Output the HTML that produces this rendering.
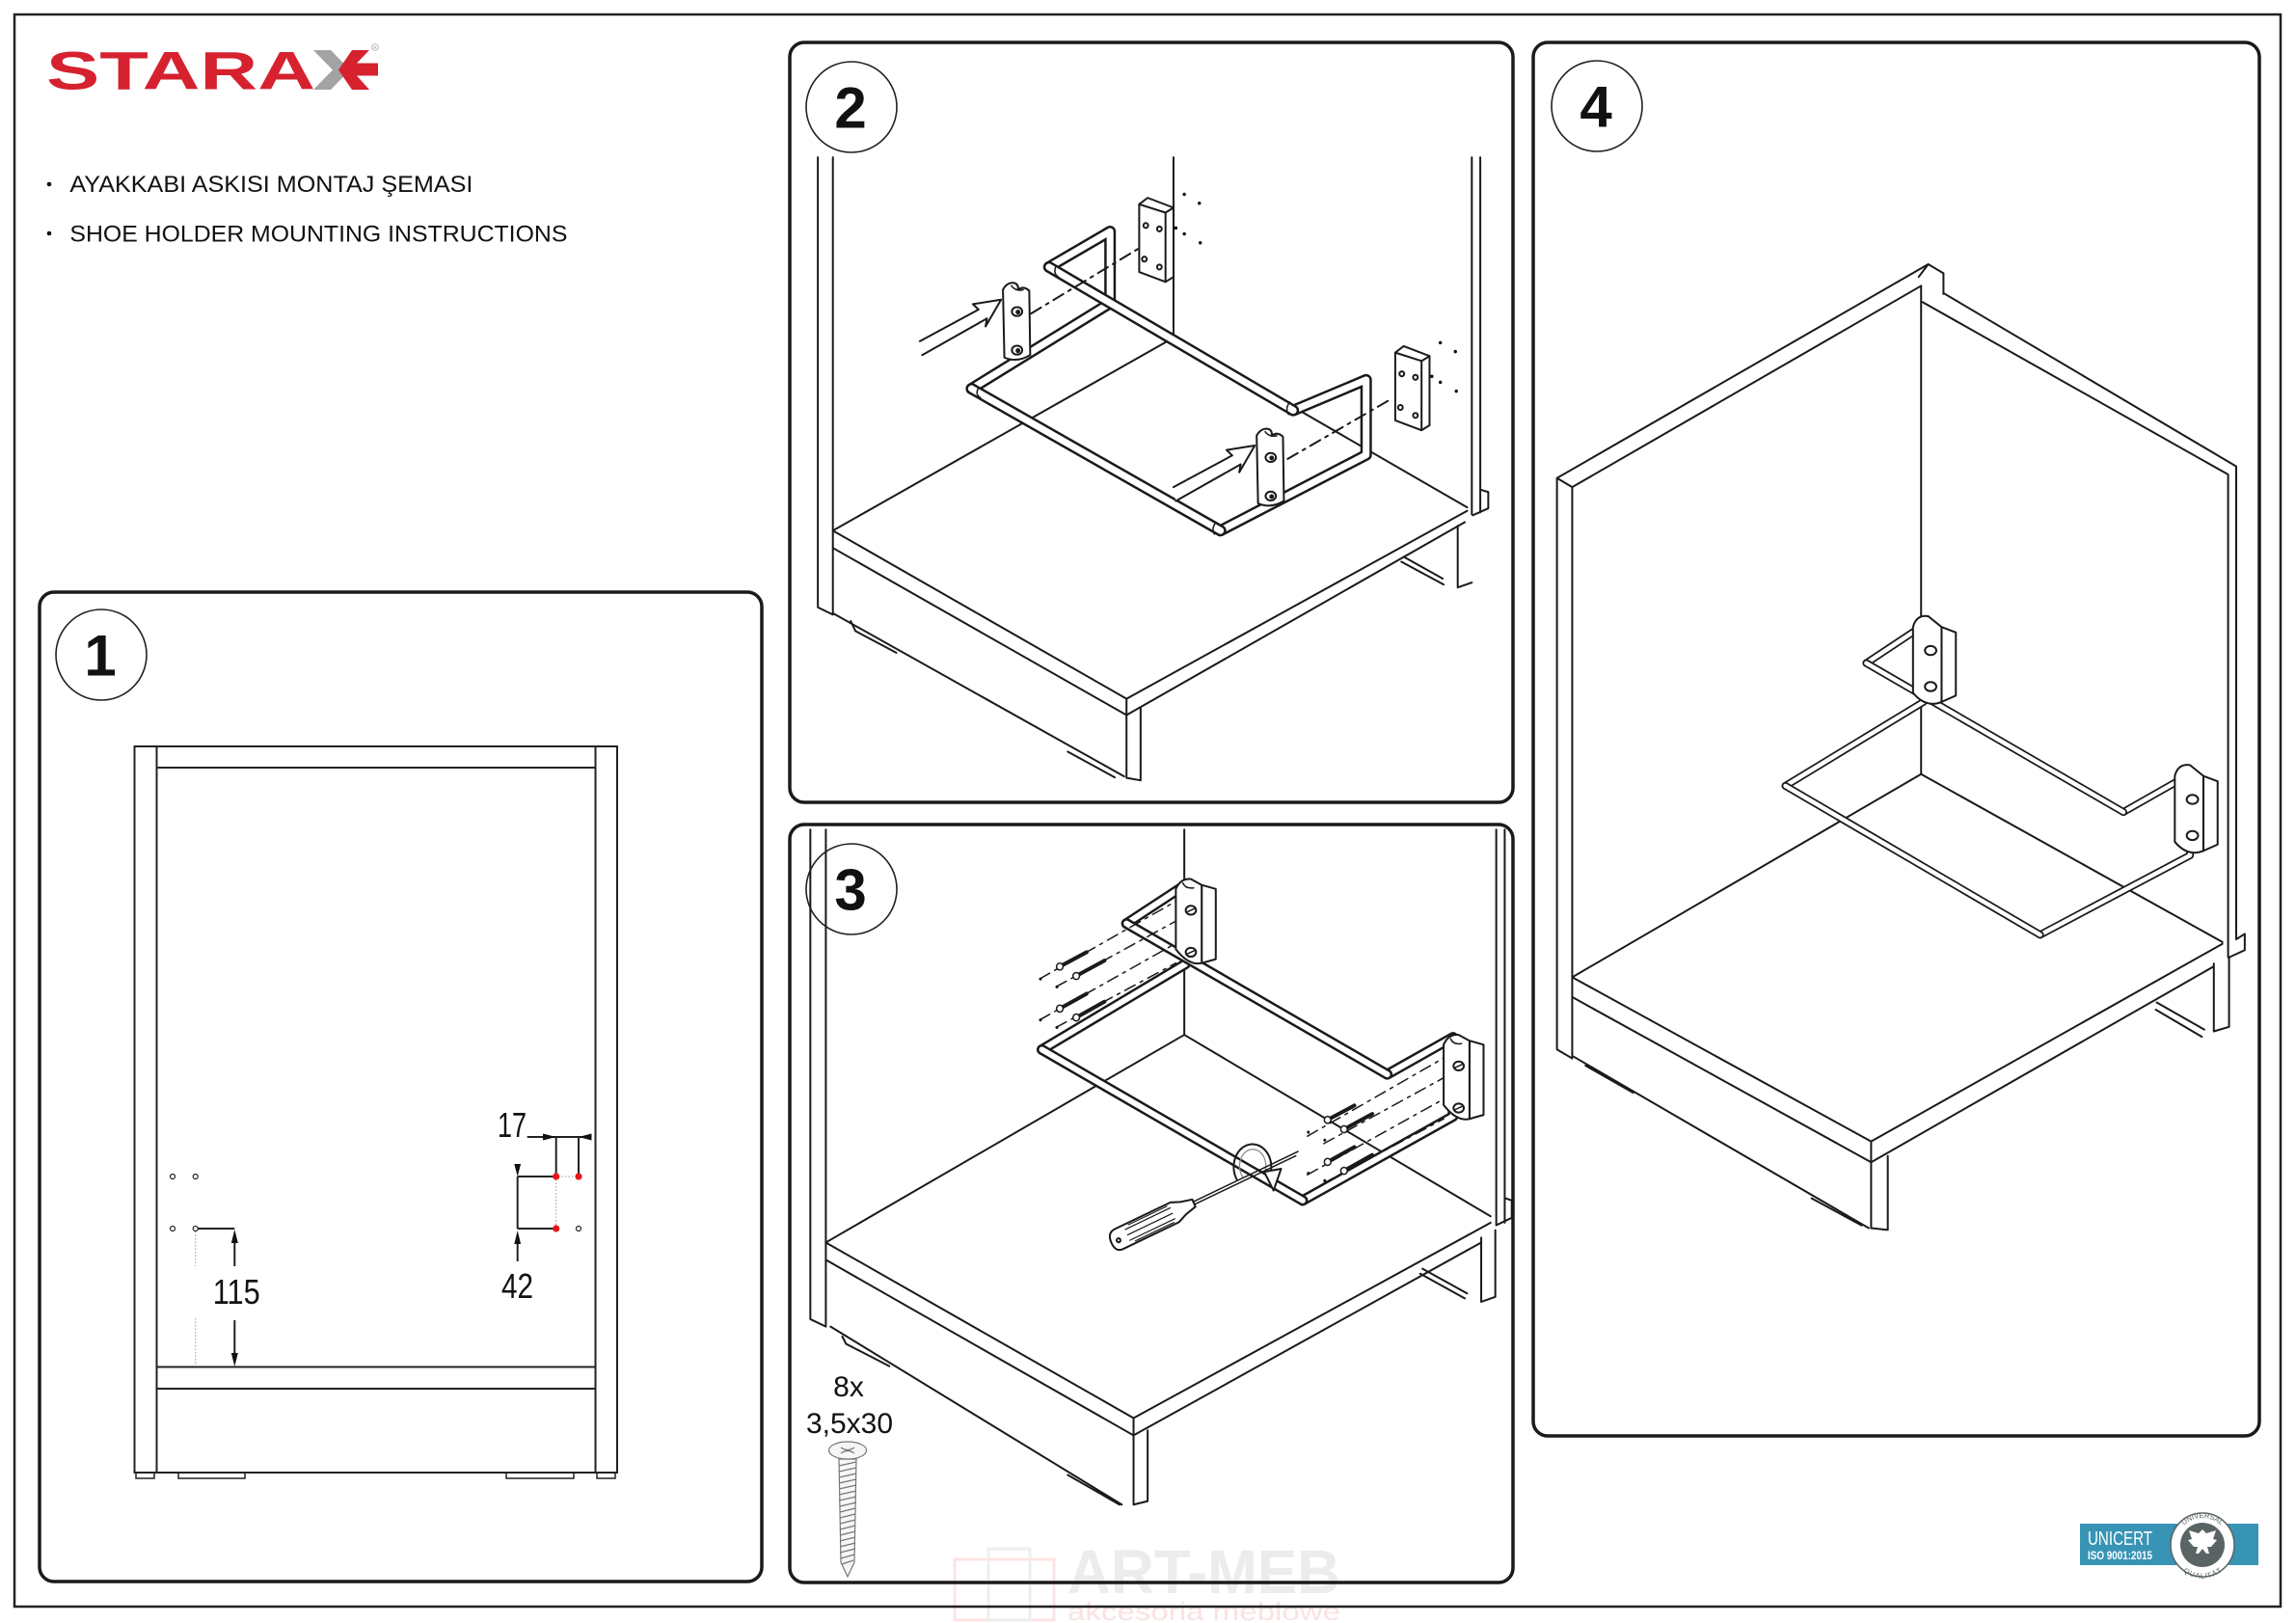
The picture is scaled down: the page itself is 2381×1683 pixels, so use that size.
<!DOCTYPE html>
<html><head><meta charset="utf-8"><style>
html,body{margin:0;padding:0;background:#fff;}
svg{display:block;}
.s *{vector-effect:non-scaling-stroke;}
text{font-family:"Liberation Sans",Arial,sans-serif;}
</style></head><body>
<svg width="2381" height="1683" viewBox="0 0 2381 1683" xmlns="http://www.w3.org/2000/svg">
<rect width="2381" height="1683" fill="#fff"/>

<!-- watermark -->
<rect x="990" y="1617" width="103" height="63" fill="none" stroke="#fde4e4" stroke-width="3"/>
<rect x="1025" y="1606" width="43" height="74" fill="none" stroke="#eeeeee" stroke-width="3"/>
<text x="1107" y="1652" font-size="64" font-weight="bold" fill="#ececec" textLength="283" lengthAdjust="spacingAndGlyphs">ART-MEB</text>
<text x="1107" y="1680" font-size="26" fill="#fbe2e2" textLength="283" lengthAdjust="spacingAndGlyphs">akcesoria meblowe</text>

<!-- outer border -->
<rect x="15" y="15" width="2350" height="1651" fill="none" stroke="#222" stroke-width="2.5"/>

<!-- logo -->
<text x="48" y="92.7" font-size="56" font-weight="bold" fill="#d6212f" textLength="279" lengthAdjust="spacingAndGlyphs">STARA</text>
<polygon points="325,52 343,52 363,72.5 343,93 325,93 345,72.5" fill="#a3a3a3"/>
<polygon points="365,52 383,52 370,65.5 392,65.5 392,78.5 370,78.5 383,93 365,93 351,72.5" fill="#d6212f"/>
<circle cx="389" cy="49" r="3.3" fill="none" stroke="#999" stroke-width="0.7"/>
<text x="389" y="50.8" font-size="4.5" fill="#999" text-anchor="middle">R</text>

<!-- title lines -->
<circle cx="51" cy="191" r="2.3" fill="#111"/>
<text x="72.4" y="199" font-size="24" fill="#111" textLength="418" lengthAdjust="spacingAndGlyphs">AYAKKABI ASKISI MONTAJ ŞEMASI</text>
<circle cx="51" cy="242" r="2.3" fill="#111"/>
<text x="72.4" y="250.7" font-size="24" fill="#111" textLength="516" lengthAdjust="spacingAndGlyphs">SHOE HOLDER MOUNTING INSTRUCTIONS</text>

<!-- panels -->
<g fill="none" stroke="#1a1a1a" stroke-width="3.5">
<rect x="41" y="614" width="749" height="1026" rx="15"/>
<rect x="819" y="44" width="750" height="788" rx="15"/>
<rect x="819" y="855" width="750" height="786" rx="15"/>
<rect x="1590" y="44" width="753" height="1445" rx="15"/>
</g>

<!-- PANEL 1 -->
<g fill="none" stroke="#222" stroke-width="2">
<rect x="139.5" y="774" width="23" height="753"/>
<rect x="617.5" y="774" width="22.5" height="753"/>
<rect x="162.5" y="774" width="455" height="22"/>
<rect x="162.5" y="1417.5" width="455" height="22.5"/>
<line x1="162.5" y1="1527" x2="617.5" y2="1527"/>
<path d="M141,1527 V1533 H160 V1527 M185,1527 V1533 H254 V1527 M525,1527 V1533 H595 V1527 M619,1527 V1533 H638 V1527" stroke-width="1.5"/>
</g>
<g stroke="#222" stroke-width="2" fill="none">
<!-- 115 -->
<line x1="202.7" y1="1274" x2="243.3" y2="1274"/>
<line x1="243.3" y1="1286" x2="243.3" y2="1313"/>
<line x1="243.3" y1="1369" x2="243.3" y2="1406"/>
<line x1="202.7" y1="1417.5" x2="243.3" y2="1417.5"/>
<!-- 42 -->
<line x1="536.7" y1="1220" x2="536.7" y2="1274"/>
<line x1="536.7" y1="1220" x2="576.7" y2="1220"/>
<line x1="536.7" y1="1274" x2="576.7" y2="1274"/>
<line x1="536.7" y1="1288" x2="536.7" y2="1308"/>
<!-- 17 -->
<line x1="546.7" y1="1179" x2="613" y2="1179"/>
<line x1="576.7" y1="1179" x2="576.7" y2="1218"/>
<line x1="600" y1="1179" x2="600" y2="1218"/>
</g>
<g stroke="#999" stroke-width="1" stroke-dasharray="1.5 2" fill="none">
<line x1="202.7" y1="1277" x2="202.7" y2="1313"/>
<line x1="202.7" y1="1367" x2="202.7" y2="1417"/>
<line x1="579" y1="1220" x2="598" y2="1220"/>
<line x1="576.7" y1="1223" x2="576.7" y2="1272"/>
</g>
<g fill="#111">
<polygon points="243.3,1275 239.8,1289 246.8,1289"/>
<polygon points="243.3,1417 239.8,1403 246.8,1403"/>
<polygon points="536.7,1220 533.3,1207 540.1,1207"/>
<polygon points="536.7,1276 533.3,1290 540.1,1290"/>
<polygon points="576.7,1179 563,1175.5 563,1182.5"/>
<polygon points="600,1179 613.5,1175.5 613.5,1182.5"/>
</g>
<g fill="#fff" stroke="#222" stroke-width="1.2">
<circle cx="179" cy="1220" r="2.5"/><circle cx="202.7" cy="1220" r="2.5"/>
<circle cx="179" cy="1274" r="2.5"/><circle cx="202.7" cy="1274" r="2.5"/>
<circle cx="600" cy="1274" r="2.5"/>
</g>
<g fill="#e8141c">
<circle cx="576.7" cy="1220" r="3.6"/><circle cx="600" cy="1220" r="3.6"/><circle cx="576.7" cy="1274" r="3.6"/>
</g>
<g fill="#111" font-size="36">
<text x="220.7" y="1352" textLength="49" lengthAdjust="spacingAndGlyphs">115</text>
<text x="520" y="1346" textLength="33" lengthAdjust="spacingAndGlyphs">42</text>
<text x="516" y="1179" textLength="30" lengthAdjust="spacingAndGlyphs">17</text>
</g>

<!-- number circles -->
<g fill="#fff" stroke="#222" stroke-width="1.6">
<circle cx="105" cy="679" r="47"/>
<circle cx="883" cy="111" r="47"/>
<circle cx="883" cy="922" r="47"/>
<circle cx="1656" cy="110" r="47"/>
</g>
<g font-size="60" font-weight="bold" fill="#111" text-anchor="middle">
<text x="104" y="700.5">1</text>
<text x="882" y="132.5">2</text>
<text x="882" y="943.5">3</text>
<text x="1655" y="131.5">4</text>
</g>

<!-- PANEL 2 -->
<g class="s" transform="translate(815,40) scale(0.4872,0.5128)" fill="none" stroke="#1a1a1a" stroke-width="2" stroke-linejoin="round" stroke-linecap="round">
<path d="M68,240 V1150 L100,1165 M100,240 V1165 M825,240 V605 M1460,240 V962 M1478,240 V958 M1478,912 L1495,917 V950 L1462,964"/>
<path d="M100,995 L725,1335 L1450,955 M100,995 L825,605 L1450,948 M100,1030 L725,1368 V1335 M725,1368 L1445,978 M100,1162 L720,1492 M725,1368 V1495 M755,1352 V1500 L725,1495 M1430,985 V1110 L1460,1100 M1315,1048 L1398,1092 M1310,1058 L1400,1104 M138,1178 L148,1198 L235,1242 M600,1442 L700,1494"/>
<!-- frame back -->
<path d="M395,708 L690,535 V390 L560,462 M925,995 L1235,842 V690 L1080,752" stroke-width="12"/>
<path d="M395,708 L690,535 V390 L560,462 M925,995 L1235,842 V690 L1080,752" stroke="#fff" stroke-width="7"/>
<!-- rods -->
<path d="M560,462 L1080,752 M395,708 L925,995" stroke-width="12"/>
<path d="M560,462 L1080,752 M395,708 L925,995" stroke="#fff" stroke-width="7"/>
<g stroke-width="1.5"><path d="M575,460 Q568,475 580,482 M1072,735 Q1062,750 1070,760 M410,706 Q402,720 414,726 M915,978 Q905,992 912,1002"/></g>
<!-- dash lines -->
<path d="M522,556 L750,425" stroke-dasharray="12 6 3 6"/>
<!-- left plate -->
<path fill="#fff" d="M752,335 L770,322 L825,342 V482 L808,492 L752,472 Z"/>
<path d="M752,335 L808,352 V492 M808,352 L825,342"/>
<g fill="#fff"><circle cx="766" cy="378" r="5"/><circle cx="795" cy="385" r="5"/><circle cx="763" cy="446" r="5"/><circle cx="795" cy="462" r="5"/></g>
<g fill="#111" stroke="none"><circle cx="848" cy="315" r="3.5"/><circle cx="880" cy="333" r="3.5"/><circle cx="848" cy="395" r="3.5"/><circle cx="882" cy="413" r="3.5"/><circle cx="830" cy="383" r="3.5"/></g>
<!-- right plate -->
<g transform="translate(545,300)">
<path fill="#fff" d="M752,335 L770,322 L825,342 V482 L808,492 L752,472 Z"/>
<path d="M752,335 L808,352 V492 M808,352 L825,342"/>
<g fill="#fff"><circle cx="766" cy="378" r="5"/><circle cx="795" cy="385" r="5"/><circle cx="763" cy="446" r="5"/><circle cx="795" cy="462" r="5"/></g>
<g fill="#111" stroke="none"><circle cx="848" cy="315" r="3.5"/><circle cx="880" cy="333" r="3.5"/><circle cx="848" cy="395" r="3.5"/><circle cx="882" cy="413" r="3.5"/><circle cx="830" cy="383" r="3.5"/></g>
</g>
<!-- left hook + arrow -->
<g id="hk">
<path fill="#fff" d="M462,508 Q470,493 485,494 Q496,496 494,508 Q506,499 518,510 L520,640 Q492,656 465,645 Z"/>
<path d="M480,500 Q490,512 505,508" stroke-width="1.5"/>
<ellipse cx="492" cy="552" rx="11" ry="9" fill="#fff"/><ellipse cx="492" cy="630" rx="11" ry="9" fill="#fff"/>
<circle cx="494" cy="553" r="3" fill="#111"/><circle cx="494" cy="631" r="3" fill="#111"/>
<path fill="#fff" d="M285,612 L410,548 L398,537 L458,528 L425,582 L428,566 L290,640"/>
</g>
<g transform="translate(540,295)">
<path fill="#fff" d="M462,508 Q470,493 485,494 Q496,496 494,508 Q506,499 518,510 L520,640 Q492,656 465,645 Z"/>
<path d="M480,500 Q490,512 505,508" stroke-width="1.5"/>
<ellipse cx="492" cy="552" rx="11" ry="9" fill="#fff"/><ellipse cx="492" cy="630" rx="11" ry="9" fill="#fff"/>
<circle cx="494" cy="553" r="3" fill="#111"/><circle cx="494" cy="631" r="3" fill="#111"/>
<path fill="#fff" d="M285,612 L410,548 L398,537 L458,528 L425,582 L428,566 L290,640"/>
<path d="M528,555 L750,433" stroke-dasharray="12 6 3 6"/>
</g>
</g>

<!-- PANEL 3 -->
<g class="s" transform="translate(815,850) scale(0.4872,0.5128)" fill="none" stroke="#1a1a1a" stroke-width="2" stroke-linejoin="round" stroke-linecap="round">
<path d="M52,20 V1010 L85,1025 M85,20 V1025 M848,20 V435 M1512,20 V820 M1530,20 V815 M1530,765 L1545,770 V805 L1512,820"/>
<path d="M85,855 L740,1210 L1500,815 M85,855 L848,435 L1500,802 M85,890 L740,1245 V1210 M740,1245 L1480,855 M95,1025 L715,1385 M740,1245 V1385 M770,1235 V1378 L740,1385 M1480,845 V975 L1510,965 V830 M1355,908 L1450,958 M1350,918 L1445,968 M120,1045 L128,1060 L220,1105 M600,1325 L710,1385"/>
<!-- frame back -->
<path d="M545,465 L850,292 V132 L725,210 M1100,770 L1420,600 V440 L1280,515" stroke-width="11"/>
<path d="M545,465 L850,292 V132 L725,210 M1100,770 L1420,600 V440 L1280,515" stroke="#fff" stroke-width="6"/>
<path d="M725,210 L1280,515 M545,465 L1100,770" stroke-width="11"/>
<path d="M725,210 L1280,515 M545,465 L1100,770" stroke="#fff" stroke-width="6"/>
<!-- dash lines left -->
<g stroke-dasharray="12 6 3 6" stroke-width="1.5">
<path d="M540,322 L830,165 M575,338 L830,205 M540,405 L830,250 M575,420 L830,290"/>
<path d="M1110,640 L1400,482 M1145,655 L1400,522 M1110,718 L1400,565 M1145,735 L1400,605"/>
</g>
<!-- left bracket -->
<g>
<path fill="#fff" d="M885,132 L915,140 V282 L885,290 Z"/>
<path fill="#fff" d="M830,140 Q840,118 862,120 L885,132 V290 Q858,296 830,262 Z"/>
<path d="M845,128 Q850,140 868,138" stroke-width="1.5"/>
<ellipse cx="862" cy="183" rx="11" ry="9" fill="#fff"/><ellipse cx="862" cy="268" rx="11" ry="9" fill="#fff"/>
<path d="M855,186 L869,180 M855,271 L869,265" stroke-width="1.5"/>
</g>
<g transform="translate(570,315)">
<path fill="#fff" d="M885,132 L915,140 V282 L885,290 Z"/>
<path fill="#fff" d="M830,140 Q840,118 862,120 L885,132 V290 Q858,296 830,262 Z"/>
<path d="M845,128 Q850,140 868,138" stroke-width="1.5"/>
<ellipse cx="862" cy="183" rx="11" ry="9" fill="#fff"/><ellipse cx="862" cy="268" rx="11" ry="9" fill="#fff"/>
<path d="M855,186 L869,180 M855,271 L869,265" stroke-width="1.5"/>
</g>
<!-- screws -->
<g id="scr">
<path d="M583,297 L640,268 M618,316 L678,285 M583,382 L640,352 M618,400 L678,368" stroke-width="4"/>
<g fill="#fff" stroke-width="1.5"><circle cx="583" cy="297" r="7"/><circle cx="618" cy="316" r="7"/><circle cx="583" cy="382" r="7"/><circle cx="618" cy="400" r="7"/></g>
<g fill="#111" stroke="none"><circle cx="542" cy="322" r="3"/><circle cx="577" cy="338" r="3"/><circle cx="542" cy="405" r="3"/><circle cx="577" cy="420" r="3"/></g>
</g>
<g transform="translate(570,310)">
<path d="M583,297 L640,268 M618,316 L678,285 M583,382 L640,352 M618,400 L678,368" stroke-width="4"/>
<g fill="#fff" stroke-width="1.5"><circle cx="583" cy="297" r="7"/><circle cx="618" cy="316" r="7"/><circle cx="583" cy="382" r="7"/><circle cx="618" cy="400" r="7"/></g>
<g fill="#111" stroke="none"><circle cx="542" cy="322" r="3"/><circle cx="577" cy="338" r="3"/><circle cx="542" cy="405" r="3"/><circle cx="577" cy="420" r="3"/></g>
</g>
<!-- rotation arrow -->
<path d="M960,728 A40,46 0 1,1 1030,720" stroke-width="2"/>
<path d="M972,722 A28,34 0 1,1 1020,712" stroke-width="1.2" stroke="#888"/>
<path fill="#fff" d="M1018,712 L1054,706 L1038,750 Z"/>
<!-- screwdriver -->
<g transform="translate(700,852) rotate(-24.5)">
<path d="M185,-3 H430 M185,3 H422" stroke-width="1.5"/>
<path fill="#fff" d="M10,-22 H140 L160,-14 L185,-8 V8 L160,14 L140,22 H10 Q-8,22 -8,0 Q-8,-22 10,-22 Z"/>
<path d="M30,-12 H135 M30,0 H135 M30,12 H135 M40,-18 H130 M40,18 H130" stroke-width="1.2"/>
<circle cx="8" cy="2" r="4"/>
</g>
</g>
<!-- screw icon panel 3 -->
<g font-size="30" fill="#111" text-anchor="middle">
<text x="880" y="1448">8x</text>
<text x="881" y="1486">3,5x30</text>
</g>
<g stroke="#777" stroke-width="1.2" fill="#f6f6f6">
<polygon points="870,1513 888,1513 886,1620 879,1635 872,1620"/>
<path d="M870,1520 L888,1516 M870,1526 L888,1522 M870,1532 L888,1528 M870,1538 L888,1534 M870,1544 L888,1540 M870,1550 L888,1546 M870,1556 L888,1552 M871,1562 L888,1558 M871,1568 L887,1564 M871,1574 L887,1570 M871,1580 L887,1576 M871,1586 L887,1582 M871,1592 L887,1588 M871,1598 L887,1594 M871,1604 L887,1600 M871,1610 L887,1606 M872,1616 L886,1612 M873,1622 L885,1618" fill="none"/>
<ellipse cx="879" cy="1504" rx="19.5" ry="9"/>
<path d="M872,1501 Q879,1506 886,1501 M872,1507 Q879,1502 886,1507" fill="none"/>
</g>

<!-- PANEL 4 -->
<g class="s" transform="translate(1585,40) scale(0.4936,0.9359)" fill="none" stroke="#1a1a1a" stroke-width="2" stroke-linejoin="round" stroke-linecap="round">
<path d="M60,487 L840,250 L872,260 V283 M60,487 L92,497 V1130 M60,487 V1120 L92,1130 M92,497 L825,274 M820,264 L840,250 M825,274 V815"/>
<path d="M872,282 L1487,474 V998 M828,292 L1470,483 V1018 M1487,998 L1505,992 V1010 L1472,1018"/>
<path d="M92,1040 L720,1222 L1458,1003 M92,1040 L825,815 L1458,1001 M92,1062 L720,1245 V1222 M720,1245 L1440,1028 M95,1128 L715,1318 M720,1245 V1318 M755,1238 V1320 L720,1318 M1440,1025 V1100 L1472,1095 V1018 M1320,1068 L1420,1098 M1318,1076 L1415,1106 M120,1138 L220,1168 M595,1285 L700,1315"/>
<!-- frame -->
<path d="M540,828 L830,735 V650 L710,692 M1075,993 L1390,905 V815 L1250,857" stroke-width="8"/>
<path d="M540,828 L830,735 V650 L710,692 M1075,993 L1390,905 V815 L1250,857" stroke="#fff" stroke-width="4.5"/>
<path d="M710,692 L1250,857 M540,828 L1075,993" stroke-width="8"/>
<path d="M710,692 L1250,857 M540,828 L1075,993" stroke="#fff" stroke-width="4.5"/>
<!-- brackets -->
<g>
<path fill="#fff" d="M868,652 L898,658 V728 L868,735 Z"/>
<path fill="#fff" d="M808,652 Q815,638 840,640 L868,652 V735 Q835,742 808,725 Z"/>
<ellipse cx="845" cy="678" rx="12" ry="5" fill="#fff"/><ellipse cx="845" cy="718" rx="12" ry="5" fill="#fff"/>
</g>
<g transform="translate(550,165)">
<path fill="#fff" d="M868,652 L898,658 V728 L868,735 Z"/>
<path fill="#fff" d="M808,652 Q815,638 840,640 L868,652 V735 Q835,742 808,725 Z"/>
<ellipse cx="845" cy="678" rx="12" ry="5" fill="#fff"/><ellipse cx="845" cy="718" rx="12" ry="5" fill="#fff"/>
</g>
</g>

<!-- UNICERT -->
<rect x="2157" y="1580" width="185" height="43" fill="#3894b5"/>
<text x="2165" y="1602" font-size="20" fill="#fff" textLength="67" lengthAdjust="spacingAndGlyphs">UNICERT</text>
<text x="2165" y="1617" font-size="11.5" font-weight="bold" fill="#fff" textLength="67" lengthAdjust="spacingAndGlyphs">ISO 9001:2015</text>
<circle cx="2284" cy="1602" r="33" fill="#fff" stroke="#5a6464" stroke-width="1.5"/>
<circle cx="2284" cy="1602" r="23" fill="#5a6464"/>
<path fill="#fff" d="M2284,1586 l4,4 l10,-3 l-3,9 l4,1 l-6,7 l-4,0 l2,7 l-3,0 l-4,-5 l-4,5 l-3,0 l2,-7 l-4,0 l-6,-7 l4,-1 l-3,-9 l10,3 Z"/>
<defs>
<path id="arcT" d="M2256,1602 A28,28 0 0,1 2312,1602"/>
<path id="arcB" d="M2257,1604 A27,27 0 0,0 2311,1604"/>
</defs>
<text font-size="7.5" fill="#5a6464"><textPath href="#arcT" startOffset="50%" text-anchor="middle">UNIVERSAL</textPath></text>
<text font-size="7.5" fill="#5a6464"><textPath href="#arcB" startOffset="50%" text-anchor="middle" dominant-baseline="hanging">QUALITÄT</textPath></text>
</svg>
</body></html>
